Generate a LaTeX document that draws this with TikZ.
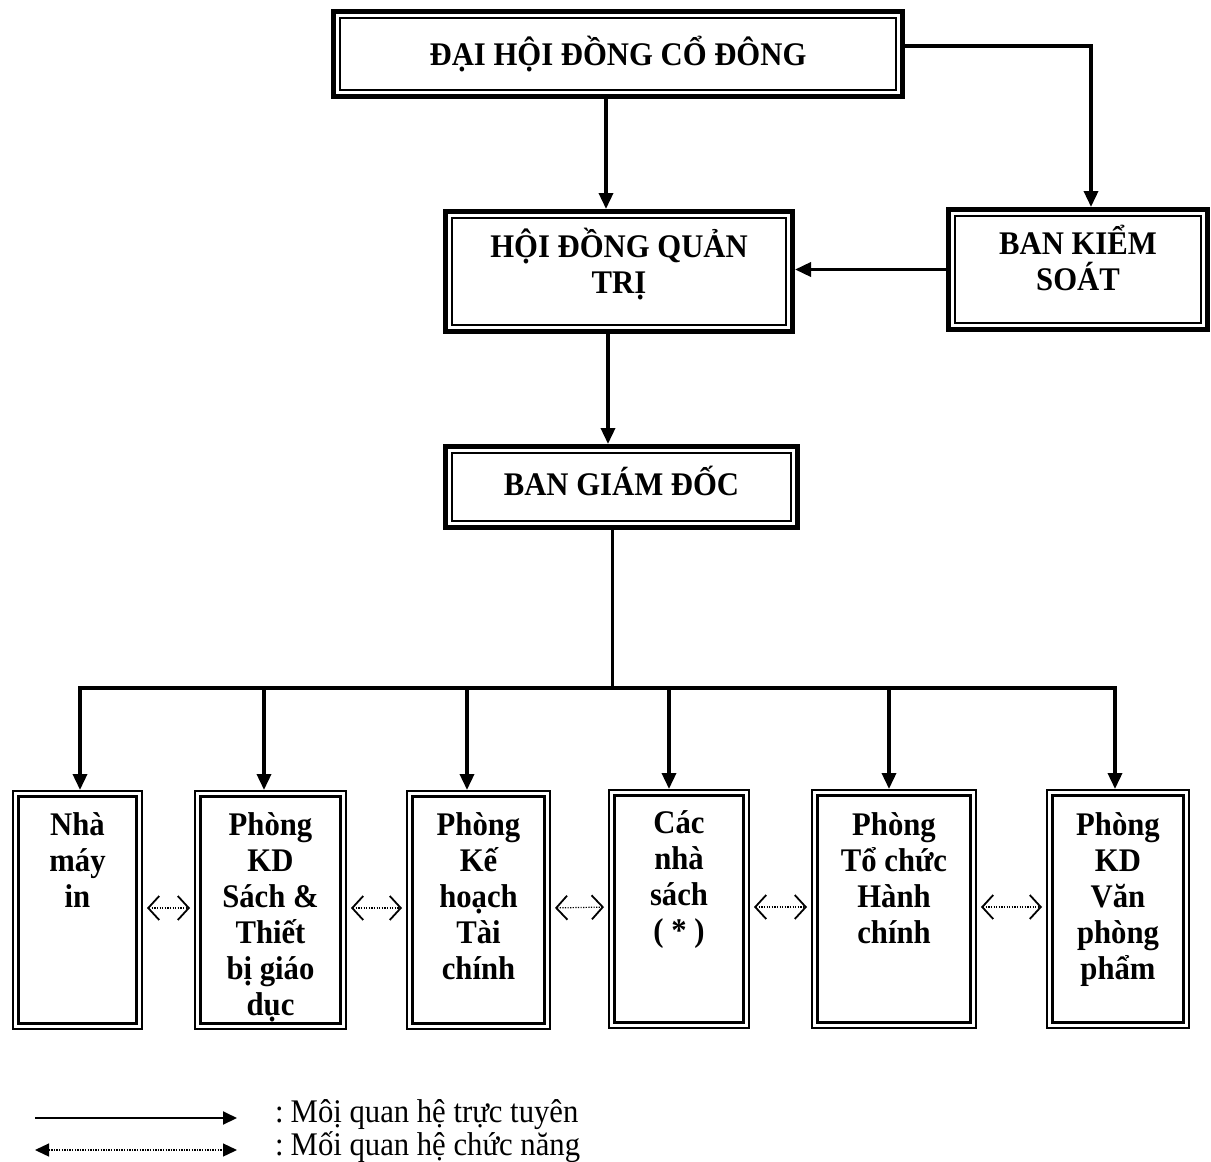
\documentclass[tikz,border=0pt]{standalone}
\usepackage{fontspec}
\setmainfont{Liberation Serif}[FakeStretch=0.93]
\usetikzlibrary{arrows.meta}
\begin{document}
\begin{tikzpicture}[x=1pt,y=-1pt,
  topbox/.style={draw, line width=5pt, inner sep=0pt, align=center, font=\fontsize{33}{36}\selectfont\bfseries},
  botbox/.style={draw, line width=2pt, inner sep=0pt, minimum height=238pt},
  bottext/.style={anchor=north, align=center, inner sep=0pt, font=\fontsize{33}{36}\selectfont\bfseries},
  conn/.style={line width=3.5pt, -{Triangle[length=16pt,width=14pt]}},
  plainline/.style={line width=3.5pt, line cap=rect},
  func/.style={line width=1.2pt, dash pattern=on 1.2pt off 1.4pt, shorten <=4pt, shorten >=4pt,
    {Straight Barb[length=11pt,width=24pt,line width=1.8pt]}-{Straight Barb[length=11pt,width=24pt,line width=1.8pt]}},
  legtext/.style={anchor=base west, inner sep=0pt, font=\fontsize{33}{36}\selectfont},
]
\useasboundingbox (0,0) rectangle (1211,1162);

% top boxes
\node[topbox, minimum width=569pt, minimum height=85pt] (dhd) at (618,54) {ĐẠI HỘI ĐỒNG CỔ ĐÔNG};
\node[topbox, minimum width=347pt, minimum height=120pt] (hdqt) at (619,271.5) {HỘI ĐỒNG QUẢN\\TRỊ\rule[-21pt]{0pt}{1pt}};
\node[topbox, minimum width=259pt, minimum height=120pt] (bks) at (1078,269.5) {BAN KIỂM\\SOÁT\rule[-24pt]{0pt}{1pt}};
\node[topbox, minimum width=352pt, minimum height=81pt] (bgd) at (621.5,487) {BAN GIÁM ĐỐC\rule[-12pt]{0pt}{1pt}};
\foreach \n in {dhd,hdqt,bks,bgd}
  \draw[line width=2pt] ([shift={(9pt,-9pt)}]\n.north west) rectangle ([shift={(-9pt,9pt)}]\n.south east);

% bottom boxes
\node[botbox, minimum width=129pt] (b1) at (77.5,910) {};
\node[botbox, minimum width=151pt] (b2) at (270.5,910) {};
\node[botbox, minimum width=143pt] (b3) at (478.5,910) {};
\node[botbox, minimum width=140pt] (b4) at (679,909) {};
\node[botbox, minimum width=164pt] (b5) at (894,909) {};
\node[botbox, minimum width=142pt] (b6) at (1118,909) {};
\foreach \n in {b1,b2,b3,b4,b5,b6}
  \draw[line width=2.5pt] ([shift={(6.5pt,-6.5pt)}]\n.north west) rectangle ([shift={(-6.5pt,6.5pt)}]\n.south east);

\node[bottext] (t1) at (77.5,812) {Nhà\\máy\\in};
\node[bottext] (t2) at (270.5,812) {Phòng\\KD\\Sách \&\\Thiết\\bị giáo\\dục};
\node[bottext] (t3) at (478.5,812) {Phòng\\Kế\\hoạch\\Tài\\chính};
\node[bottext] (t4) at (679,810) {Các\\nhà\\sách\\( * )};
\node[bottext] (t5) at (894,812) {Phòng\\Tổ chức\\Hành\\chính};
\node[bottext] (t6) at (1118,812) {Phòng\\KD\\Văn\\phòng\\phẩm};

% connectors
\draw[conn] ([xshift=-12pt]dhd.south) -- ([xshift=-12pt]dhd.south |- hdqt.north);
\draw[conn] ([yshift=8pt]dhd.east) -| ([xshift=13pt]bks.north);
\draw[conn] (bks.west) -- (bks.west -| hdqt.east);
\draw[conn] ([xshift=-11pt]hdqt.south) -- ([xshift=-11pt]hdqt.south |- bgd.north);

\coordinate (tap1) at (80,688);
\coordinate (tap2) at (264,688);
\coordinate (tap3) at (467,688);
\coordinate (tap4) at (669,688);
\coordinate (tap5) at (889,688);
\coordinate (tap6) at (1115,688);
\draw[plainline] ([xshift=-9pt]bgd.south) -- ([xshift=-9pt]bgd.south |- tap1);
\draw[plainline] (tap1) -- (tap6);
\foreach \i in {1,...,6}
  \draw[conn] (tap\i) -- (tap\i |- b\i.north);

% functional relations
\foreach \a/\b in {b1/b2,b2/b3,b3/b4,b4/b5,b5/b6}
  \draw[func] ([yshift=2pt]\a.east) -- ([yshift=2pt]\b.west);

% legend
\coordinate (l1a) at (35,1118);
\coordinate (l1b) at (237,1118);
\coordinate (l2a) at (35,1150);
\coordinate (l2b) at (237,1150);
\draw[line width=2pt, -{Triangle[length=14pt,width=13pt]}] (l1a) -- (l1b);
\draw[line width=1.3pt, dash pattern=on 1.3pt off 1.3pt, {Triangle[length=14pt,width=13pt]}-{Triangle[length=14pt,width=13pt]}] (l2a) -- (l2b);
\node[legtext] (lg1) at (275,1122) {:\kern7pt Môị quan hệ trực tuyên};
\node[legtext] (lg2) at (275,1155) {:\kern7pt Mối quan hệ chức năng};
\end{tikzpicture}
\end{document}
